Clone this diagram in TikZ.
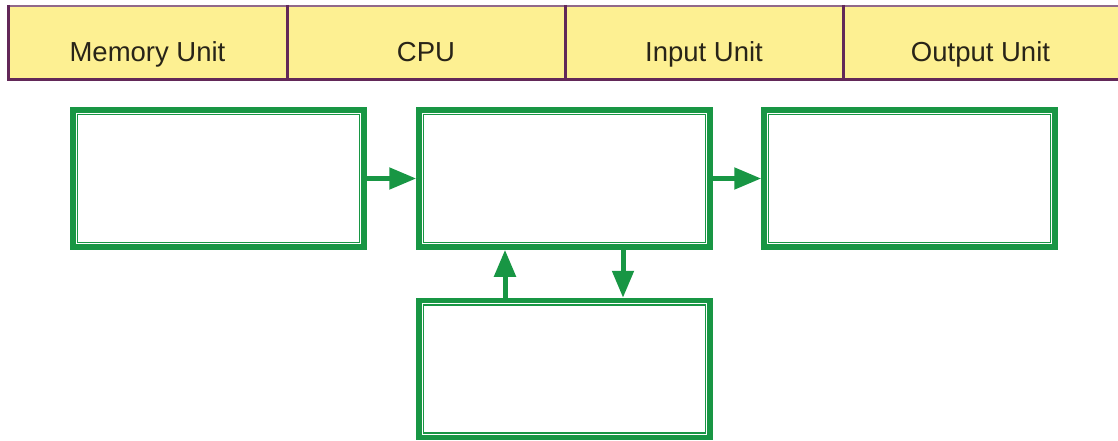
\documentclass[tikz,border=0pt]{standalone}
\usepackage{fontspec}
\setmainfont{Liberation Sans}
\usetikzlibrary{arrows.meta}
\definecolor{grn}{RGB}{24,150,68}
\definecolor{purp}{RGB}{98,40,88}
\definecolor{yel}{RGB}{253,240,146}
\definecolor{txt}{RGB}{40,36,24}
\tikzset{
  unitbox/.style={draw=grn, line width=5.5pt, minimum width=291pt, minimum height=137pt, inner sep=0pt,
    path picture={\draw[grn, line width=1.3pt]
      ([xshift=4.4pt,yshift=4.4pt]path picture bounding box.south west) rectangle
      ([xshift=-4.4pt,yshift=-4.4pt]path picture bounding box.north east);}},
  arr/.style={draw=grn, line width=5pt, -{Triangle[length=27pt,width=21pt]}},
  cell/.style={font=\fontsize{27.5}{32}\selectfont, text=txt, anchor=base},
  sep/.style={draw=purp, line width=3pt}
}
\begin{document}
\begin{tikzpicture}[x=1pt,y=-1pt]
\useasboundingbox (0,0) rectangle (1118,441);
\fill[white] (0,0) rectangle (1118,441);
% top bar
\fill[yel] (8,6) rectangle (1122,79);
\draw[purp!70, line width=1.5pt] (8,6) -- (1122,6);
\draw[sep] (8,79.5) -- (1122,79.5);
\draw[sep] (8,5) -- (8,81);
\draw[sep] (287,5) -- (287,81);
\draw[sep] (565,5) -- (565,81);
\draw[sep] (843,5) -- (843,81);
\node[cell] (mem) at (147.5,62) {Memory Unit};
\node[cell] (cpu) at (426,62) {CPU};
\node[cell] (inp) at (704,62) {Input Unit};
\node[cell] (out) at (980.5,62) {Output Unit};
% boxes
\node[unitbox] (b1) at (218.5,178.5) {};
\node[unitbox] (b2) at (564.5,178.5) {};
\node[unitbox] (b3) at (909.5,178.5) {};
\node[unitbox] (b4) at (564.5,369) {};
% arrows
\draw[arr] (b1.east) -- (b2.west);
\draw[arr] (b2.east) -- (b3.west);
\draw[arr] ([xshift=-59.5pt]b4.north) -- ([xshift=-59.5pt]b2.south);
\draw[arr] ([xshift=58.5pt]b2.south) -- ([xshift=58.5pt]b4.north);
\end{tikzpicture}
\end{document}
